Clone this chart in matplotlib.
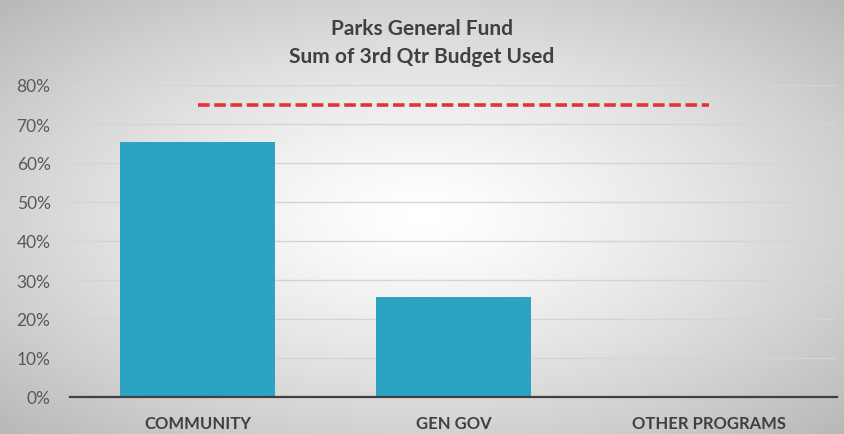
import numpy as np
import matplotlib.pyplot as plt
from matplotlib.ticker import PercentFormatter

categories = ['COMMUNITY', 'GEN GOV', 'OTHER PROGRAMS']
budget_used = [0.655, 0.257, 0.0]
target = [0.75, 0.75, 0.75]
yticks = [0, 0.1, 0.2, 0.3, 0.4, 0.5, 0.6, 0.7, 0.8]

plt.rcParams['font.family'] = ['Lato', 'DejaVu Sans']

fig = plt.figure(figsize=(8.44, 4.35), dpi=100)

# radial gradient background, white in the middle, grey at the edges
bg = fig.add_axes([0, 0, 1, 1], zorder=-10)
yy, xx = np.mgrid[-1:1:200j, -1:1:400j]
r = np.sqrt(xx ** 2 + yy ** 2) / np.sqrt(2)
bg.imshow(1 - 0.28 * r ** 1.3, cmap='gray', vmin=0, vmax=1, aspect='auto',
          extent=[0, 1, 0, 1], interpolation='bicubic')
bg.set_axis_off()

W, H = 844, 435
ax = fig.add_axes([70 / W, (H - 398) / H, (837 - 70) / W, (398 - 86) / H])
ax.patch.set_alpha(0)

x = np.arange(len(categories))
ax.bar(x, budget_used, width=0.605, color='#2CA3C0', zorder=3)
ax.plot(x, target, color='#E8303A', lw=2.6, ls=(0, (3.2, 1.3)), zorder=4)

ax.set_xlim(-0.5, 2.5)
ax.set_ylim(0, 0.8)
ax.set_yticks(yticks)
ax.yaxis.set_major_formatter(PercentFormatter(1.0, decimals=0))
ax.grid(axis='y', color='#D4D4D4', lw=1, zorder=0)
ax.set_xticks(x)
ax.set_xticklabels(categories, fontsize=12, fontweight='bold', color='#404040')
ax.tick_params(axis='x', length=0, pad=13)
ax.tick_params(axis='y', length=0, pad=14, labelsize=12.5, labelcolor='#595959')
for s in ['top', 'right', 'left']:
    ax.spines[s].set_visible(False)
ax.spines['bottom'].set_color('#404040')
ax.spines['bottom'].set_linewidth(1.6)
ax.spines['bottom'].set_zorder(5)

fig.text(0.5, 1 - 43 / H, 'Parks General Fund\nSum of 3rd Qtr Budget Used',
         ha='center', va='center', fontsize=15, fontweight='bold',
         color='#404040', linespacing=1.45)

fig.savefig('out.png', dpi=100)
